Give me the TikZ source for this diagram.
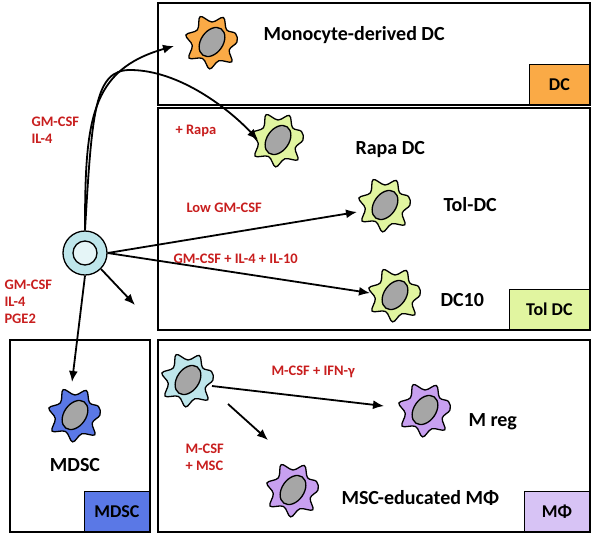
\documentclass[tikz,border=0pt]{standalone}
\usepackage{fontspec}
\setmainfont{Carlito}
\usetikzlibrary{arrows.meta}
\definecolor{dcorange}{RGB}{250,170,70}
\definecolor{tolgreen}{RGB}{225,245,160}
\definecolor{mdscblue}{RGB}{90,120,230}
\definecolor{mphilila}{RGB}{215,195,245}
\definecolor{moncyan}{RGB}{190,230,235}
\definecolor{mregpurp}{RGB}{200,160,240}
\definecolor{txtred}{RGB}{200,30,30}
\tikzset{
	panel/.style={draw, line width=1.3pt},
	paneltag/.style={draw, line width=1.3pt, minimum height=40pt, font=\bfseries\fontsize{18}{20}\selectfont},
	cellname/.style={font=\bfseries\fontsize{20}{22}\selectfont},
	cond/.style={text=txtred, align=left, font=\bfseries\fontsize{14.5}{17}\selectfont},
	arr/.style={-{Latex[length=11pt,width=9pt]}, line width=1.8pt},
	pics/cell/.style={code={
		\draw[line width=1.3pt, fill=#1] plot[smooth cycle, tension=0.6] coordinates {
			(0:25) (25:19) (45:28) (70:20) (95:27) (120:19) (145:28) (170:20)
			(195:27) (220:19) (245:28) (270:20) (295:27) (320:19) (340:25)};
		\draw[line width=1.3pt, fill=gray!70] (0,0) ellipse[x radius=11, y radius=16, rotate=-35];
	}}
}
\begin{document}
\begin{tikzpicture}[x=1pt, y=-1pt]
	\useasboundingbox (0,0) rectangle (600,539);
	% panels
	\draw[panel] (158,3) rectangle (590,105);
	\draw[panel] (158,108) rectangle (590,330);
	\draw[panel] (10,340) rectangle (150,532);
	\draw[panel] (158,340) rectangle (590,532);
	\node[paneltag, fill=dcorange, minimum width=60pt, anchor=south east] (tDC) at (590,105) {DC};
	\node[paneltag, fill=tolgreen, minimum width=80pt, anchor=south east] (tTol) at (590,330) {Tol DC};
	\node[paneltag, fill=mdscblue, minimum width=65pt, anchor=south east] (tMDSC) at (150,532) {MDSC};
	\node[paneltag, fill=mphilila, minimum width=65pt, anchor=south east] (tMphi) at (590,532) {MΦ};
	% cells
	\pic at (212,42) {cell=dcorange};
	\pic at (278,140) {cell=tolgreen};
	\pic at (385,205) {cell=tolgreen};
	\pic at (395,295) {cell=tolgreen};
	\pic at (75,415) {cell=mdscblue};
	\pic at (188,380) {cell=moncyan};
	\pic at (425,410) {cell=mregpurp};
	\pic at (293,490) {cell=mregpurp};
	\node[draw, line width=1.3pt, circle, fill=moncyan, minimum size=44pt] (mono) at (85,253) {};
	\draw[line width=1.3pt, fill=moncyan!40] (mono.center) circle[radius=12];
	% anchors of arrows
	\coordinate (moDC) at (174,46);
	\coordinate (rapa) at (258,140);
	\coordinate (tol) at (357,212);
	\coordinate (dc10) at (370,293);
	\coordinate (mid) at (135,305);
	\coordinate (mdsc) at (72,382);
	\coordinate (mac1) at (212,386);
	\coordinate (mreg) at (384,406);
	\coordinate (mac2) at (228,404);
	\coordinate (msc) at (268,440);
	% names
	\node[cellname, anchor=west] (nMo) at (260,35) {Monocyte-derived DC};
	\node[cellname, anchor=west] (nRa) at (352,150) {Rapa DC};
	\node[cellname, anchor=west] (nTo) at (440,205) {Tol-DC};
	\node[cellname, anchor=west] (nD1) at (437,300) {DC10};
	\node[cellname] (nMD) at (75,465) {MDSC};
	\node[cellname, anchor=west] (nMr) at (465,422) {M reg};
	\node[cellname, anchor=west] (nMs) at (338,498) {MSC-educated MΦ};
	% conditions
	\node[cond, anchor=west] (c1) at (28,130) {GM-CSF\\IL-4};
	\node[cond, anchor=west] (c2) at (172,131) {+ Rapa};
	\node[cond, anchor=west] (c3) at (183,208) {Low GM-CSF};
	\node[cond, anchor=west] (c4) at (170,259) {GM-CSF + IL-4 + IL-10};
	\node[cond, anchor=west] (c5) at (1,302) {GM-CSF\\IL-4\\PGE2};
	\node[cond, anchor=west] (c6) at (268,372) {M-CSF + IFN-γ};
	\node[cond, anchor=west] (c7) at (182,457) {M-CSF\\+ MSC};
	% arrows
	\draw[arr] (mono.north) .. controls (85,120) and (90,70) .. (moDC);
	\draw[arr] (mono.north) .. controls (92,110) and (95,70) .. (130,70) .. controls (180,70) and (230,110) .. (rapa);
	\draw[arr] (mono.east) -- (tol);
	\draw[arr] (mono.east) -- (dc10);
	\draw[arr] (mono.south east) -- (mid);
	\draw[arr] (mono.south) -- (mdsc);
	\draw[arr] (mac1) -- (mreg);
	\draw[arr] (mac2) -- (msc);
\end{tikzpicture}
\end{document}
